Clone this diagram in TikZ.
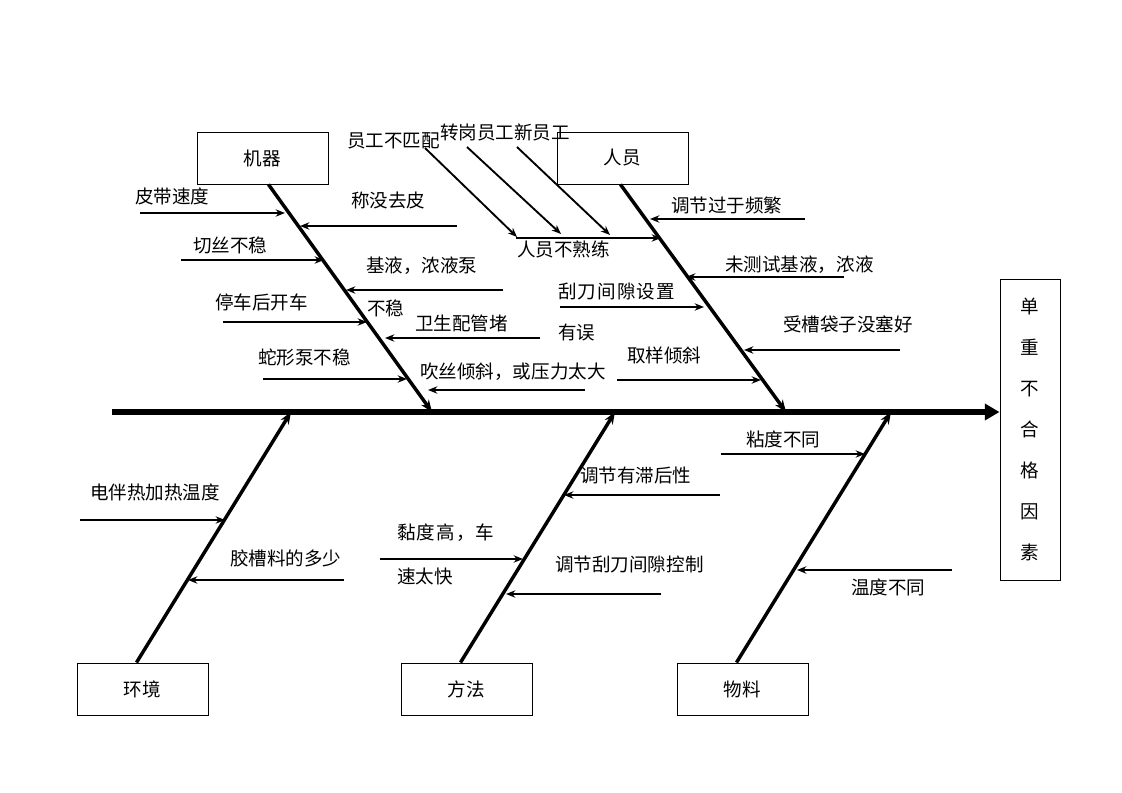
\documentclass[tikz,border=0pt]{standalone}
\usepackage{fontspec}
\setmainfont{Noto Sans CJK SC}
\usetikzlibrary{arrows.meta}
\begin{document}
\begin{tikzpicture}[x=0.75pt,y=-0.75pt,
  box/.style={draw,line width=0.75pt,minimum width=98.25pt,minimum height=39pt,inner sep=0pt,font=\fontsize{13.9}{16}\selectfont},
  lbl/.style={anchor=west,inner sep=0pt,font=\fontsize{13.9}{16}\selectfont},
  sub/.style={line width=1.4pt,-{Stealth[length=7pt,width=5.5pt]}},
  bone/.style={line width=2.6pt,-{Stealth[length=9pt,width=7pt]}},
  spine/.style={line width=3.8pt,-{Triangle[length=11pt,width=12pt]}}]
\useasboundingbox (0,0) rectangle (1122,793);

% category boxes
\node[box] (mach) at (262.5,158) {机器};
\node[box] (pers) at (622.5,158) {人员};
\node[box] (env)  at (142.5,689) {环境};
\node[box] (meth) at (466.5,689) {方法};
\node[box] (matl) at (742.5,689) {物料};

% effect box
\node[draw,line width=0.75pt,minimum width=45pt,minimum height=225.75pt,inner sep=0pt,align=center,
      font=\fontsize{13.9}{30.75}\selectfont] (eff) at (1030,429.5) {单\\重\\不\\合\\格\\因\\素};

% spine
\coordinate (tail) at (112,412);
\draw[spine] (tail) -- (tail -| eff.west);

% bone ends on spine
\coordinate (mEnd) at (432,412);
\coordinate (pEnd) at (786,412);
\coordinate (eEnd) at (291,412);
\coordinate (hEnd) at (615,412);
\coordinate (lEnd) at (891,412);

\draw[bone] ([xshift=4.5pt]mach.south) -- (mEnd);
\draw[bone] ([xshift=-1.5pt]pers.south) -- (pEnd);
\draw[bone] ([xshift=-4.5pt]env.north) -- (eEnd);
\draw[bone] ([xshift=-4.5pt]meth.north) -- (hEnd);
\draw[bone] ([xshift=-4.5pt]matl.north) -- (lEnd);

% ---- machine causes
\node[lbl] (m1) at (135,196) {皮带速度};
\coordinate (m1a) at (140,213); \coordinate (m1b) at (285,213);
\draw[sub] (m1a) -- (m1b);
\node[lbl] (m2) at (351,200) {称没去皮};
\coordinate (m2a) at (457,226); \coordinate (m2b) at (300,226);
\draw[sub] (m2a) -- (m2b);
\node[lbl] (m3) at (193,245) {切丝不稳};
\coordinate (m3a) at (181,260); \coordinate (m3b) at (324,260);
\draw[sub] (m3a) -- (m3b);
\node[lbl] (m4) at (366,266) {基液，浓液泵};
\node[lbl] (m4b) at (367,308) {不稳};
\coordinate (m4s) at (503,290); \coordinate (m4e) at (346,290);
\draw[sub] (m4s) -- (m4e);
\node[lbl] (m5) at (215,302) {停车后开车};
\coordinate (m5a) at (223,322); \coordinate (m5b) at (367,322);
\draw[sub] (m5a) -- (m5b);
\node[lbl] (m6) at (415,323) {卫生配管堵};
\coordinate (m6a) at (540,338); \coordinate (m6b) at (385,338);
\draw[sub] (m6a) -- (m6b);
\node[lbl] (m7) at (258,357) {蛇形泵不稳};
\coordinate (m7a) at (263,379); \coordinate (m7b) at (407,379);
\draw[sub] (m7a) -- (m7b);
\node[lbl] (m8) at (420,372) {吹丝倾斜，或压力太大};
\coordinate (m8a) at (585,390); \coordinate (m8b) at (428,390);
\draw[sub] (m8a) -- (m8b);

% ---- person causes
\node[lbl] (p1) at (347,141) {员工不匹配};
\node[lbl] (p2) at (440,132) {转岗员工新员工};
\coordinate (p1a) at (425,148); \coordinate (p1b) at (517,237);
\coordinate (p2a) at (467,147); \coordinate (p2b) at (561,234);
\coordinate (p3a) at (517,147); \coordinate (p3b) at (610,235);
\draw[sub] (p1a) -- (p1b);
\draw[sub] (p2a) -- (p2b);
\draw[sub] (p3a) -- (p3b);
\node[lbl] (p4) at (517,249) {人员不熟练};
\coordinate (p4a) at (516,238); \coordinate (p4b) at (661,238);
\draw[sub] (p4a) -- (p4b);
\node[lbl] (p5) at (671,205) {调节过于频繁};
\coordinate (p5a) at (805,219); \coordinate (p5b) at (650,219);
\draw[sub] (p5a) -- (p5b);
\node[lbl] (p6) at (725,265) {未测试基液，浓液};
\coordinate (p6a) at (844,277); \coordinate (p6b) at (686,277);
\draw[sub] (p6a) -- (p6b);
\node[lbl,font=\fontsize{13.9}{16}\selectfont\addfontfeature{LetterSpace=6}] (p7) at (558,291) {刮刀间隙设置};
\node[lbl] (p7b) at (558,332) {有误};
\coordinate (p7s) at (560,307); \coordinate (p7e) at (704,307);
\draw[sub] (p7s) -- (p7e);
\node[lbl] (p8) at (783,324) {受槽袋子没塞好};
\coordinate (p8a) at (900,350); \coordinate (p8b) at (744,350);
\draw[sub] (p8a) -- (p8b);
\node[lbl] (p9) at (627,355) {取样倾斜};
\coordinate (p9a) at (617,380); \coordinate (p9b) at (761,380);
\draw[sub] (p9a) -- (p9b);

% ---- environment causes
\node[lbl] (e1) at (90,492) {电伴热加热温度};
\coordinate (e1a) at (80,520); \coordinate (e1b) at (225,520);
\draw[sub] (e1a) -- (e1b);
\node[lbl] (e2) at (230,558) {胶槽料的多少};
\coordinate (e2a) at (344,580); \coordinate (e2b) at (188,580);
\draw[sub] (e2a) -- (e2b);

% ---- method causes
\node[lbl] (h1) at (580,475) {调节有滞后性};
\coordinate (h1a) at (720,495); \coordinate (h1b) at (564,495);
\draw[sub] (h1a) -- (h1b);
\node[lbl,font=\fontsize{13.9}{16}\selectfont\addfontfeature{LetterSpace=6}] (h2) at (397,533) {黏度高，车};
\node[lbl] (h2b) at (397,576) {速太快};
\coordinate (h2s) at (380,559); \coordinate (h2e) at (523,559);
\draw[sub] (h2s) -- (h2e);
\node[lbl] (h3) at (555,564) {调节刮刀间隙控制};
\coordinate (h3a) at (661,594); \coordinate (h3b) at (506,594);
\draw[sub] (h3a) -- (h3b);

% ---- material causes
\node[lbl] (l1) at (746,439) {粘度不同};
\coordinate (l1a) at (721,454); \coordinate (l1b) at (865,454);
\draw[sub] (l1a) -- (l1b);
\node[lbl] (l2) at (851,587) {温度不同};
\coordinate (l2a) at (952,570); \coordinate (l2b) at (797,570);
\draw[sub] (l2a) -- (l2b);
\end{tikzpicture}
\end{document}
